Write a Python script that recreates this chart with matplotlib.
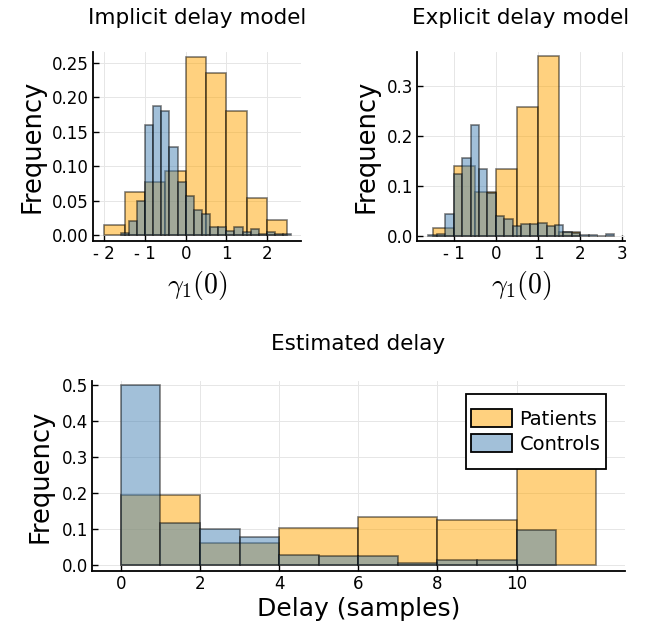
import numpy as np
import matplotlib
matplotlib.use("Agg")
import matplotlib.pyplot as plt
from matplotlib.colors import to_rgba
from matplotlib.patches import Patch, Rectangle

# ---- data ----
impl_pat_start, impl_pat_width = -2.0, 0.5
impl_pat = [0.015, 0.062, 0.077, 0.093, 0.258, 0.235, 0.180, 0.053, 0.022]
impl_ctl_start, impl_ctl_width = -1.6, 0.2
impl_ctl = [0.0034, 0.021, 0.050, 0.159, 0.187, 0.180, 0.127, 0.077, 0.056, 0.037,
            0.030, 0.011, 0.012, 0.006, 0.011, 0.004, 0.008, 0.0015, 0.004, 0.002, 0.002]

expl_pat_start, expl_pat_width = -1.5, 0.5
expl_pat = [0.017, 0.141, 0.0875, 0.134, 0.258, 0.361, 0.009]
expl_ctl_start, expl_ctl_width = -1.6, 0.2
expl_ctl = [0.002, 0.005, 0.044, 0.124, 0.156, 0.222, 0.134, 0.086, 0.040, 0.034, 0.021,
            0.025, 0.025, 0.027, 0.021, 0.023, 0.009, 0.007, 0.003, 0.003, 0.001, 0.005]

delay_pat_start, delay_pat_width = 0, 2
delay_pat = [0.195, 0.060, 0.102, 0.133, 0.126, 0.380]
delay_ctl_start, delay_ctl_width = 0, 1
delay_ctl = [0.500, 0.116, 0.100, 0.079, 0.028, 0.025, 0.026, 0.006, 0.013, 0.015, 0.096]

impl_xticks = [-2, -1, 0, 1, 2]
impl_xticklabels = ["- 2", "- 1", "0", "1", "2"]
impl_yticks = [0.0, 0.05, 0.10, 0.15, 0.20, 0.25]
impl_yticklabels = ["0.00", "0.05", "0.10", "0.15", "0.20", "0.25"]
expl_xticks = [-1, 0, 1, 2, 3]
expl_xticklabels = ["- 1", "0", "1", "2", "3"]
expl_yticks = [0.0, 0.1, 0.2, 0.3]
expl_yticklabels = ["0.0", "0.1", "0.2", "0.3"]
delay_xticks = [0, 2, 4, 6, 8, 10]
delay_yticks = [0.0, 0.1, 0.2, 0.3, 0.4, 0.5]

series_names = ["Patients", "Controls"]

# ---- style ----
plt.rcParams['font.family'] = ['DejaVu Sans']
plt.rcParams['mathtext.fontset'] = 'cm'
ORANGE = to_rgba('orange', 0.5)
BLUE = to_rgba('steelblue', 0.5)
EDGE = (0, 0, 0, 0.5)
TICK_FS = 12
LABEL_FS = 18.5
TITLE_FS = 15.5

W, H = 654, 633
fig = plt.figure(figsize=(W / 100, H / 100), dpi=100)


def px_axes(left, top, right, bottom):
    return fig.add_axes([left / W, 1 - bottom / H, (right - left) / W, (bottom - top) / H])


def style(ax):
    for s in ['top', 'right']:
        ax.spines[s].set_visible(False)
    for s in ['left', 'bottom']:
        ax.spines[s].set_linewidth(1.3)
        ax.spines[s].set_color('black')
    ax.grid(True, color='#e6e6e6', linewidth=0.7)
    ax.set_axisbelow(True)
    ax.tick_params(direction='in', length=4, width=1.0, labelsize=TICK_FS, pad=3)


def hist(ax, start, width, vals, color):
    edges = start + width * np.arange(len(vals))
    ax.bar(edges, vals, width=width, align='edge', color=color,
           edgecolor=EDGE, linewidth=1.2)


# top-left
ax1 = px_axes(93, 52, 301, 241)
style(ax1)
hist(ax1, impl_pat_start, impl_pat_width, impl_pat, ORANGE)
hist(ax1, impl_ctl_start, impl_ctl_width, impl_ctl, BLUE)
ax1.set_xlim(-2.28, 2.84)
ax1.set_ylim(-0.0087, 0.2656)
ax1.set_xticks(impl_xticks, impl_xticklabels)
ax1.set_yticks(impl_yticks, impl_yticklabels)
ax1.set_title("Implicit delay model", fontsize=TITLE_FS, pad=20)
ax1.set_ylabel("Frequency", fontsize=LABEL_FS, labelpad=5)
ax1.set_xlabel(r"$\gamma_1(0)$", fontsize=LABEL_FS + 1.5, labelpad=4)

# top-right
ax2 = px_axes(417, 52, 625, 241)
style(ax2)
hist(ax2, expl_pat_start, expl_pat_width, expl_pat, ORANGE)
hist(ax2, expl_ctl_start, expl_ctl_width, expl_ctl, BLUE)
ax2.set_xlim(-1.87, 3.06)
ax2.set_ylim(-0.01, 0.369)
ax2.set_xticks(expl_xticks, expl_xticklabels)
ax2.set_yticks(expl_yticks, expl_yticklabels)
ax2.set_title("Explicit delay model", fontsize=TITLE_FS, pad=20)
ax2.set_ylabel("Frequency", fontsize=LABEL_FS, labelpad=5)
ax2.set_xlabel(r"$\gamma_1(0)$", fontsize=LABEL_FS + 1.5, labelpad=4)

# bottom
ax3 = px_axes(92, 381, 625, 571)
style(ax3)
hist(ax3, delay_pat_start, delay_pat_width, delay_pat, ORANGE)
hist(ax3, delay_ctl_start, delay_ctl_width, delay_ctl, BLUE)
ax3.set_xlim(-0.73, 12.74)
ax3.set_ylim(-0.0167, 0.511)
ax3.set_xticks(delay_xticks)
ax3.set_yticks(delay_yticks)
ax3.set_title("Estimated delay", fontsize=TITLE_FS, pad=22)
ax3.set_ylabel("Frequency", fontsize=LABEL_FS, labelpad=6)
ax3.set_xlabel("Delay (samples)", fontsize=LABEL_FS - 0.5, labelpad=3)

# legend frame (drawn separately so vertical padding can differ from horizontal)
box_l, box_t, box_r, box_b = 466, 394, 606, 469
frame = Rectangle((box_l / W, 1 - box_b / H), (box_r - box_l) / W, (box_b - box_t) / H,
                  transform=fig.transFigure, facecolor='white', edgecolor='black',
                  linewidth=1.3, zorder=4.5, clip_on=False)
ax3.add_patch(frame)

handles = [Patch(facecolor=ORANGE, edgecolor='black', linewidth=1.3),
           Patch(facecolor=BLUE, edgecolor='black', linewidth=1.3)]
leg = ax3.legend(handles, series_names, loc='center left',
                 bbox_to_anchor=(471 / W, 1 - (box_t + box_b) / 2 / H),
                 bbox_transform=fig.transFigure,
                 fontsize=14, frameon=False, borderpad=0, handlelength=2.1,
                 handleheight=1.0, handletextpad=0.4, labelspacing=0.28,
                 borderaxespad=0)
leg.set_zorder(5)

fig.savefig("out.png", dpi=100)
